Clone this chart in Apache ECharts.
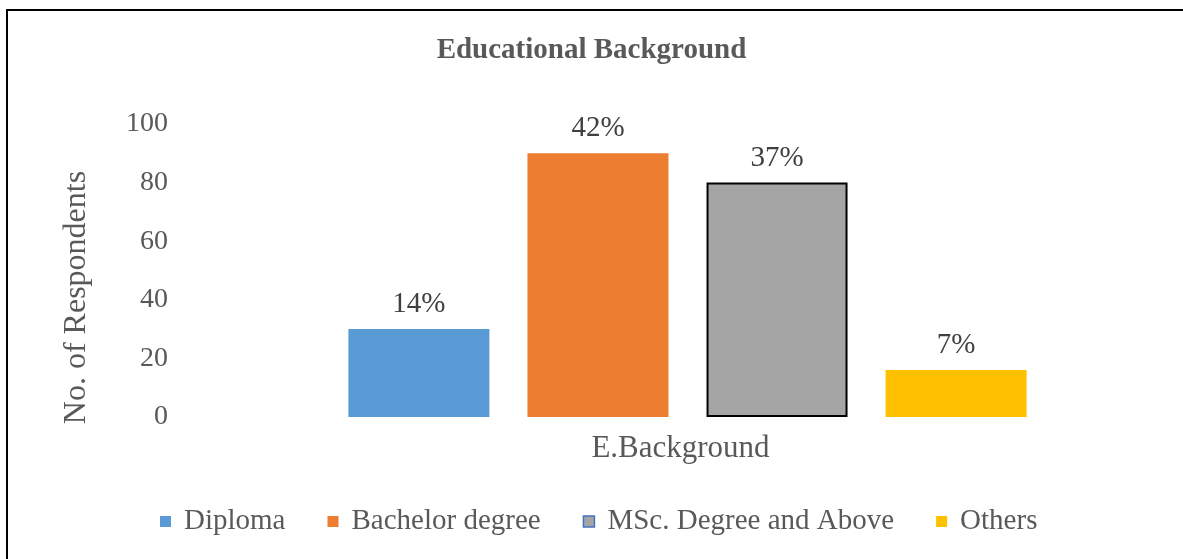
<!DOCTYPE html>
<html>
<head>
<meta charset="utf-8">
<script src="https://cdn.jsdelivr.net/npm/echarts@6/dist/echarts.min.js"></script>
<style>
  html, body { margin: 0; padding: 0; background: #fff; }
  #chart { width: 1183px; height: 559px; }
</style>
</head>
<body>
<div id="chart"></div>
<script>
// Educational background of respondents
const categories = ['E.Background'];
const seriesNames = ['Diploma', 'Bachelor degree', 'MSc. Degree and Above', 'Others'];
const respondents = [30, 90, 80, 16];
const percentLabels = ['14%', '42%', '37%', '7%'];
const yTicks = [0, 20, 40, 60, 80, 100];

const colors = ['#5B9BD5', '#ED7D31', '#A5A5A5', '#FFC000'];
const serif = '"Liberation Serif", "DejaVu Serif", serif';
const textColor = '#595959';

const chart = echarts.init(document.getElementById('chart'), null, { renderer: 'canvas' });

const series = seriesNames.map((name, i) => ({
  name: name,
  type: 'bar',
  data: [respondents[i]],
  barWidth: 141,
  barGap: '27%',
  itemStyle: i === 2
    ? { color: colors[i], borderColor: '#000', borderWidth: 2 }
    : { color: colors[i] },
  label: {
    show: true,
    position: 'top',
    distance: 10,
    formatter: () => percentLabels[i],
    fontFamily: serif,
    fontSize: 29,
    color: '#404040'
  }
}));

chart.setOption({
  animation: false,
  backgroundColor: '#fff',
  title: {
    text: 'Educational Background',
    left: 'center',
    top: 31,
    textStyle: { fontFamily: serif, fontSize: 29, fontWeight: 'bold', color: textColor }
  },
  legend: {
    top: 507,
    left: 160,
    padding: 0,
    itemWidth: 11,
    itemHeight: 11,
    itemGap: 42,
    icon: 'rect',
    textStyle: { fontFamily: serif, fontSize: 29, color: textColor, padding: [0, 0, 0, 8] },
    data: seriesNames.map((n, i) => i === 2
      ? { name: n, itemStyle: { color: colors[i], borderColor: '#4472C4', borderWidth: 1.5 } }
      : { name: n })
  },
  grid: { left: 200, right: 8, top: 124, bottom: 142 },
  xAxis: {
    type: 'category',
    data: categories,
    axisLine: { show: false },
    axisTick: { show: false },
    axisLabel: {
      margin: 16,
      fontFamily: serif,
      fontSize: 31,
      color: textColor,
      padding: [0, 14, 0, 0]
    }
  },
  yAxis: {
    type: 'value',
    min: yTicks[0],
    max: yTicks[yTicks.length - 1],
    interval: 20,
    name: 'No. of Respondents',
    nameLocation: 'middle',
    nameGap: 107,
    nameTextStyle: { fontFamily: serif, fontSize: 32, color: textColor, padding: [0, 54, 0, 0] },
    axisLine: { show: false },
    axisTick: { show: false },
    splitLine: { show: false },
    axisLabel: { margin: 32, fontFamily: serif, fontSize: 28, color: textColor }
  },
  graphic: [{
    type: 'polyline',
    shape: { points: [[7, 559], [7, 10], [1183, 10]] },
    style: { stroke: '#000', lineWidth: 2, fill: null }
  }],
  series: series
});
</script>
</body>
</html>
